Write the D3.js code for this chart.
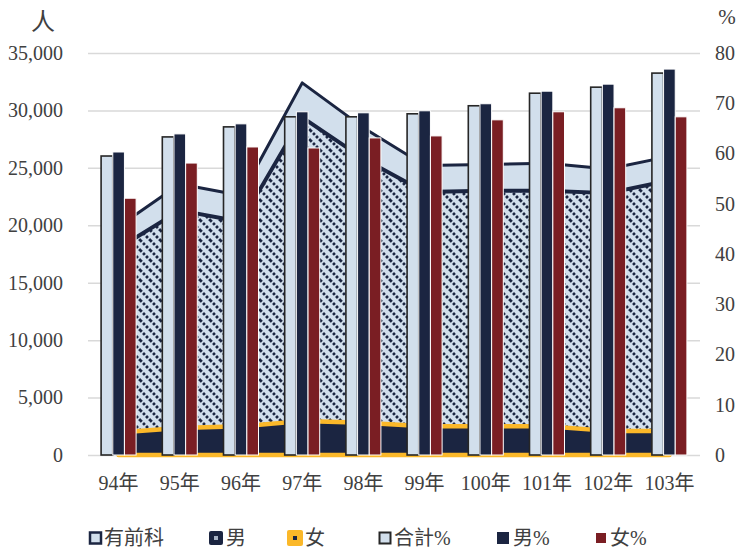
<!DOCTYPE html>
<meta charset="utf-8">
<style>
body { margin: 0; background: #fff; }
text { font-family: "Liberation Serif", "Noto Sans CJK TC", serif; fill: #404040; }
.grid line { stroke: #d9d9d9; stroke-width: 1.5; }
.axis path { display: none; }
</style>
<body>
<script src="https://d3js.org/d3.v7.min.js"></script>
<script>
// categories and values
var years = ["94年", "95年", "96年", "97年", "98年", "99年", "100年", "101年", "102年", "103年"];
var priorRecord = [19900, 23600, 22600, 32400, 28500, 25200, 25300, 25400, 24900, 26000]; // 有前科
var male = [18000, 21300, 20300, 29400, 25800, 22900, 23000, 23000, 22800, 23900];        // 男
var female = [1950, 2350, 2500, 2950, 2800, 2500, 2500, 2500, 2100, 2100];                // 女
var totalPct = [59.5, 63.3, 65.3, 67.3, 67.3, 67.9, 69.5, 72.0, 73.2, 76.0];              // 合計%
var malePct = [60.3, 63.9, 65.9, 68.3, 68.1, 68.5, 69.9, 72.4, 73.8, 76.8];               // 男%
var femalePct = [51.1, 58.1, 61.3, 61.1, 63.1, 63.5, 66.7, 68.3, 69.1, 67.3];             // 女%
var leftTicks = [0, 5000, 10000, 15000, 20000, 25000, 30000, 35000];
var rightTicks = [0, 10, 20, 30, 40, 50, 60, 70, 80];

var navy = "#1b2541", light = "#d2dfec", yellow = "#fbb829", red = "#7a1e23";

var width = 741, height = 550;
var plot = {left: 88, right: 700, top: 53, bottom: 455};

var svg = d3.select("body").append("svg")
    .attr("width", width)
    .attr("height", height);

// hatch for the 男 area
var defs = svg.append("defs");
var pat = defs.append("pattern")
    .attr("id", "hatch")
    .attr("patternUnits", "userSpaceOnUse")
    .attr("width", 10).attr("height", 10);
pat.append("rect").attr("width", 10).attr("height", 10).attr("fill", light);
pat.append("path")
    .attr("d", "M0,0L10,10M-1,9L1,11M9,-1L11,1")
    .attr("stroke", navy)
    .attr("stroke-width", 2.8)
    .attr("stroke-dasharray", "2.6,1.7");

var x = d3.scaleBand().domain(years).range([plot.left, plot.right]);
var cx = function(d) { return x(d) + x.bandwidth() / 2; };
var yL = d3.scaleLinear().domain([0, 35000]).range([plot.bottom, plot.top]);
var yR = d3.scaleLinear().domain([0, 80]).range([plot.bottom, plot.top]);

// grid + left axis
svg.append("g")
    .attr("class", "axis grid")
    .attr("transform", "translate(" + plot.left + ",0)")
    .call(d3.axisLeft(yL).tickValues(leftTicks).tickFormat(d3.format(","))
        .tickSize(-(plot.right - plot.left)).tickPadding(25))
    .selectAll("text").style("font-size", "20px");

// right axis
svg.append("g")
    .attr("class", "axis")
    .attr("transform", "translate(" + plot.right + ",0)")
    .call(d3.axisRight(yR).tickValues(rightTicks).tickSize(0).tickPadding(15))
    .selectAll("text").style("font-size", "20px");

// bottom axis
svg.append("g")
    .attr("class", "axis")
    .attr("transform", "translate(0," + plot.bottom + ")")
    .call(d3.axisBottom(x).tickSize(0).tickPadding(21))
    .selectAll("text").style("font-size", "20px");

svg.append("text").attr("x", 43).attr("y", 30).attr("text-anchor", "middle")
    .style("font-size", "24px").text("人");
svg.append("text").attr("x", 727).attr("y", 24).attr("text-anchor", "middle")
    .style("font-size", "21px").text("%");

// areas, not stacked, drawn back to front
function areaOf(vals) {
    return d3.area()
        .x(function(d, i) { return cx(years[i]); })
        .y0(yL(0))
        .y1(function(d) { return yL(d); })(vals) + "Z";
}
svg.append("path").attr("d", areaOf(priorRecord))
    .attr("fill", light).attr("stroke", navy).attr("stroke-width", 3)
    .attr("stroke-linejoin", "round");
svg.append("path").attr("d", areaOf(male))
    .attr("fill", "url(#hatch)").attr("stroke", navy).attr("stroke-width", 4)
    .attr("stroke-linejoin", "round");
svg.append("path").attr("d", areaOf(female))
    .attr("fill", navy).attr("stroke", yellow).attr("stroke-width", 4.5)
    .attr("stroke-linejoin", "round");

// percentage bars
var keys = ["total", "male", "female"];
var x1 = d3.scaleBand().domain(keys).range([-17.5, 17.5]);
var barData = years.map(function(y, i) {
    return [
        {year: y, key: "total", v: totalPct[i]},
        {year: y, key: "male", v: malePct[i]},
        {year: y, key: "female", v: femalePct[i]}
    ];
});
var barFill = {total: light, male: navy, female: red};
var barStroke = {total: "#262626", male: "#fff", female: "#fff"};

svg.append("g").selectAll("g")
    .data(barData)
    .enter().append("g")
    .selectAll("rect")
    .data(function(d) { return d; })
    .enter().append("rect")
    .attr("x", function(d) { return cx(d.year) + x1(d.key); })
    .attr("y", function(d) { return yR(d.v); })
    .attr("width", x1.bandwidth())
    .attr("height", function(d) { return yR(0) - yR(d.v); })
    .attr("fill", function(d) { return barFill[d.key]; })
    .attr("stroke", function(d) { return barStroke[d.key]; })
    .attr("stroke-width", function(d) { return d.key == "total" ? 1.6 : 1; });

// legend
var legendY = 538;
var lg = svg.append("g");
function legendText(xp, label) {
    lg.append("text").attr("x", xp).attr("y", legendY).attr("dy", "0.35em")
        .style("font-size", "20px").text(label);
}
lg.append("rect").attr("x", 90).attr("y", legendY - 5.5).attr("width", 11).attr("height", 11)
    .attr("fill", light).attr("stroke", navy).attr("stroke-width", 2.5);
legendText(104, "有前科");
lg.append("rect").attr("x", 209).attr("y", legendY - 7).attr("width", 14).attr("height", 14)
    .attr("rx", 2).attr("fill", navy);
lg.append("rect").attr("x", 214).attr("y", legendY - 2).attr("width", 4).attr("height", 4)
    .attr("fill", "#a9b4c6");
legendText(226, "男");
lg.append("rect").attr("x", 287).attr("y", legendY - 8).attr("width", 16).attr("height", 16)
    .attr("rx", 2).attr("fill", yellow);
lg.append("rect").attr("x", 293).attr("y", legendY - 2).attr("width", 4).attr("height", 4)
    .attr("fill", navy);
legendText(305, "女");
lg.append("rect").attr("x", 379.5).attr("y", legendY - 5.5).attr("width", 11).attr("height", 11)
    .attr("fill", light).attr("stroke", "#262626").attr("stroke-width", 2);
legendText(394, "合計%");
lg.append("rect").attr("x", 497).attr("y", legendY - 6).attr("width", 12).attr("height", 12)
    .attr("fill", navy);
legendText(513, "男%");
lg.append("rect").attr("x", 596).attr("y", legendY - 5).attr("width", 10).attr("height", 10)
    .attr("fill", red);
legendText(610, "女%");
</script>
</body>
